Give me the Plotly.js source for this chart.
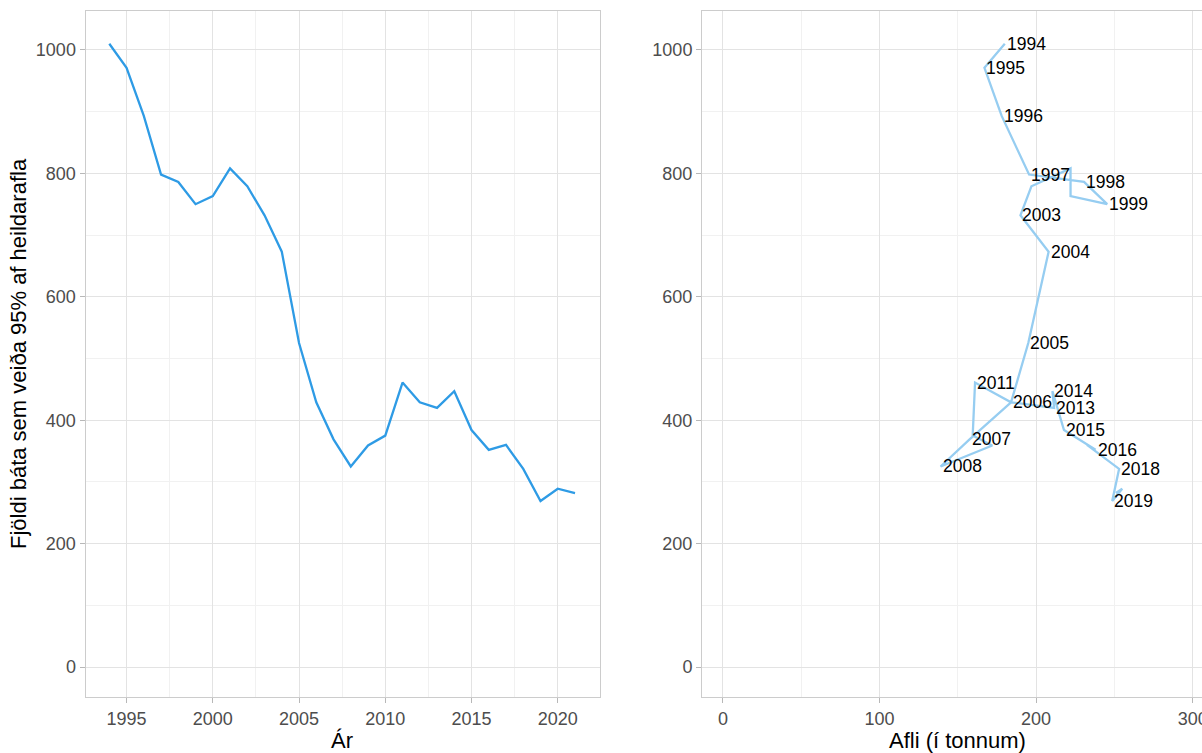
<!DOCTYPE html>
<html>
<head>
<meta charset="utf-8">
<script src="https://cdn.plot.ly/plotly-3.0.1.min.js"></script>
<style>
  html, body { margin: 0; padding: 0; overflow: hidden; background: #fff; }
  #chart { width: 1230px; height: 753px; }
</style>
</head>
<body>
<div id="chart"></div>
<script>
// Fleet concentration: number of boats taking 95% of the total catch, by year,
// and the same count plotted against the total catch (tonnes).
const years = [1994, 1995, 1996, 1997, 1998, 1999, 2000, 2001, 2002, 2003,
               2004, 2005, 2006, 2007, 2008, 2009, 2010, 2011, 2012, 2013,
               2014, 2015, 2016, 2017, 2018, 2019, 2020, 2021];
const fjoldi = [1010, 971, 893, 798, 786, 750, 763, 808, 779, 732,
                673, 525, 429, 369, 325, 359, 375, 461, 429, 420,
                447, 384, 352, 360, 321, 269, 289, 282];
const afli = [180, 167, 178, 195.5, 230.6, 245.4, 222, 222, 197, 190,
              208, 195, 184, 157.5, 139, 172, 159.5, 161, 184, 211.5,
              210.4, 217.8, 238, 232.5, 253, 248.6, 255, 251];
// years whose label is printed beside the path
const labelYears = [1994, 1995, 1996, 1997, 1998, 1999, 2003, 2004, 2005, 2006,
                    2007, 2008, 2011, 2013, 2014, 2015, 2016, 2018, 2019];

const W = 1230, H = 753;
const tickFont = { family: 'Liberation Sans, Arial, sans-serif', size: 18, color: '#4d4d4d' };
const gridMajor = '#e3e3e3', gridMinor = '#f1f1f1';

function axisBase() {
  return {
    showline: true, mirror: true, linecolor: '#cccccc', linewidth: 1,
    ticks: 'outside', ticklen: 5, tickwidth: 1, tickcolor: '#b8b8b8',
    showgrid: true, gridcolor: gridMajor, gridwidth: 1,
    zeroline: false, tickfont: tickFont, fixedrange: true
  };
}

const traces = [
  {
    x: years, y: fjoldi, xaxis: 'x', yaxis: 'y',
    type: 'scatter', mode: 'lines',
    line: { color: '#2e9be5', width: 2.3 }, hoverinfo: 'skip'
  },
  {
    x: afli, y: fjoldi, xaxis: 'x2', yaxis: 'y2',
    type: 'scatter', mode: 'lines',
    line: { color: '#96cdf1', width: 2.3 }, hoverinfo: 'skip'
  }
];

const labelFont = { family: 'Liberation Sans, Arial, sans-serif', size: 17.5, color: '#000000' };
const annotations = labelYears.map(yr => {
  const i = years.indexOf(yr);
  return {
    x: afli[i], y: fjoldi[i], xref: 'x2', yref: 'y2',
    text: String(yr), showarrow: false,
    xanchor: 'left', yanchor: 'middle', font: labelFont
  };
});

const titleFont = { family: 'Liberation Sans, Arial, sans-serif', size: 22, color: '#000000' };
annotations.push(
  { text: 'Ár', xref: 'paper', yref: 'paper', x: 342 / W, y: 1 - 740 / H,
    showarrow: false, xanchor: 'center', yanchor: 'middle', font: titleFont },
  { text: 'Afli (í tonnum)', xref: 'paper', yref: 'paper', x: 958 / W, y: 1 - 740 / H,
    showarrow: false, xanchor: 'center', yanchor: 'middle', font: titleFont },
  { text: 'Fjöldi báta sem veiða 95% af heildarafla', xref: 'paper', yref: 'paper',
    x: 18 / W, y: 1 - 354 / H, textangle: -90,
    showarrow: false, xanchor: 'center', yanchor: 'middle', font: titleFont }
);

const yDomain = [1 - 697 / H, 1 - 11 / H];
const layout = {
  width: W, height: H,
  margin: { l: 0, r: 0, t: 0, b: 0 },
  paper_bgcolor: '#ffffff', plot_bgcolor: '#ffffff',
  showlegend: false,
  xaxis: Object.assign(axisBase(), {
    domain: [85.5 / W, 599.5 / W], range: [1992.62, 2022.42],
    tickmode: 'linear', tick0: 1995, dtick: 5,
    minor: { tick0: 1992.5, dtick: 5, showgrid: true, gridcolor: gridMinor, ticks: '' },
    anchor: 'y'
  }),
  yaxis: Object.assign(axisBase(), {
    domain: yDomain, range: [-48.5, 1063],
    tickmode: 'linear', tick0: 0, dtick: 200,
    minor: { tick0: 100, dtick: 200, showgrid: true, gridcolor: gridMinor, ticks: '' },
    anchor: 'x'
  }),
  xaxis2: Object.assign(axisBase(), {
    domain: [702 / W, 1216 / W], range: [-13.4, 314.9],
    tickmode: 'linear', tick0: 0, dtick: 100,
    minor: { tick0: 50, dtick: 100, showgrid: true, gridcolor: gridMinor, ticks: '' },
    anchor: 'y2'
  }),
  yaxis2: Object.assign(axisBase(), {
    domain: yDomain, range: [-48.5, 1063],
    tickmode: 'linear', tick0: 0, dtick: 200,
    minor: { tick0: 100, dtick: 200, showgrid: true, gridcolor: gridMinor, ticks: '' },
    anchor: 'x2'
  }),
  annotations: annotations
};

Plotly.newPlot('chart', traces, layout, { staticPlot: true, displayModeBar: false });
</script>
</body>
</html>
